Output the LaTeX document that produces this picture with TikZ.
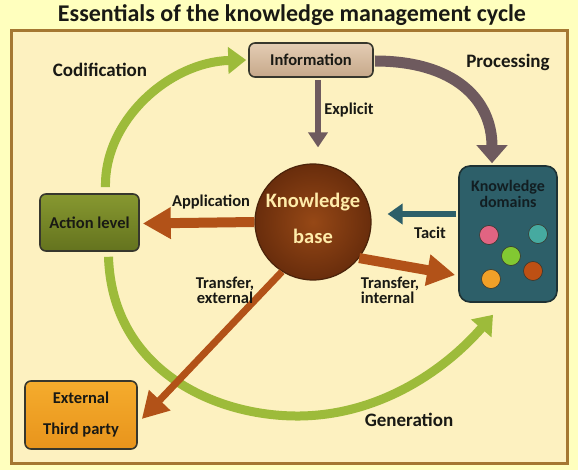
\documentclass[tikz,border=0pt]{standalone}
\usepackage{fontspec}
\setmainfont{Carlito}
\usetikzlibrary{arrows.meta,calc,shapes.geometric}
\definecolor{bgout}{RGB}{255,255,190}
\definecolor{panel}{RGB}{253,241,192}
\definecolor{frame}{RGB}{165,120,50}
\definecolor{txt}{RGB}{25,25,20}
\definecolor{mauve}{RGB}{110,90,94}
\definecolor{leaf}{RGB}{157,187,58}
\definecolor{rust}{RGB}{178,82,24}
\definecolor{teal}{RGB}{45,95,105}
\definecolor{edge}{RGB}{55,55,45}
\tikzset{
  lbl/.style={text=txt,font=\bfseries\fontsize{16.5}{15}\selectfont,inner sep=0pt},
  biglbl/.style={text=txt,font=\bfseries\fontsize{19}{20}\selectfont,inner sep=0pt},
  boxbase/.style={draw=edge,line width=1.6pt,rounded corners=6pt,text=txt,
    font=\bfseries\fontsize{16.5}{31}\selectfont,align=center,inner sep=0pt},
  dot/.style={circle,draw=edge,line width=0.6pt,minimum size=19pt,inner sep=0pt},
  greenarr/.style={draw=leaf,line width=9pt,-{Triangle[length=18pt,width=26pt]}},
  mauvearr/.style={draw=mauve,line width=11pt,-{Triangle[length=18pt,width=30pt]}},
  thinmauve/.style={draw=mauve,line width=6pt,-{Triangle[length=15pt,width=19pt]}},
  rustarr/.style={draw=rust,line width=10pt,-{Triangle[length=28pt,width=30pt]}},
  thinrust/.style={draw=rust,line width=7pt,-{Triangle[length=26pt,width=28pt]}},
  tealarr/.style={draw=teal,line width=6pt,-{Triangle[length=15pt,width=20pt]}}
}
\begin{document}
\begin{tikzpicture}[x=1pt,y=-1pt]
\fill[bgout] (0,0) rectangle (578,470);
\useasboundingbox (0,0) rectangle (578,470);
\fill[panel] (11,31) rectangle (567,463);
\draw[frame,line width=3pt] (11,31) rectangle (567,463);
\node[text=txt,font=\bfseries\fontsize{24}{26}\selectfont] (title) at (292,15) {Essentials of the knowledge management cycle};

% nodes
\node[boxbase,minimum width=124pt,minimum height=34pt,top color={rgb,255:red,228;green,205;blue,180},bottom color={rgb,255:red,198;green,168;blue,138}] (info) at (311,60) {Information};
\node[boxbase,minimum width=99pt,minimum height=57pt,top color={rgb,255:red,135;green,152;blue,48},bottom color={rgb,255:red,100;green,115;blue,30}] (act) at (89.5,222.5) {Action level};
\node[boxbase,minimum width=112pt,minimum height=68pt,top color={rgb,255:red,245;green,172;blue,45},bottom color={rgb,255:red,232;green,148;blue,28}] (ext) at (81,415) {External\\Third party};
\node[boxbase,rounded corners=11pt,minimum width=98pt,minimum height=136pt,fill=teal,draw={rgb,255:red,30;green,50;blue,52}] (kd) at (508,234) {};
\node[text={rgb,255:red,18;green,30;blue,34},font=\bfseries\fontsize{16}{16}\selectfont,align=center] (kdt) at (508,194) {Knowledge\\domains};
\node[circle,minimum size=116pt,draw={rgb,255:red,75;green,35;blue,10},line width=1.2pt,inner color={rgb,255:red,150;green,72;blue,22},outer color={rgb,255:red,105;green,45;blue,12}] (kb) at (313,222) {};
\node[text={rgb,255:red,255;green,236;blue,170},font=\bfseries\fontsize{20.5}{36}\selectfont,align=center] (kbt) at (313,218) {Knowledge\\base};

\node[dot,fill={rgb,255:red,225;green,100;blue,130}] (d1) at (489,235) {};
\node[dot,fill={rgb,255:red,70;green,170;blue,160}] (d2) at (538,234) {};
\node[dot,fill={rgb,255:red,130;green,200;blue,50}] (d3) at (511,256) {};
\node[dot,fill={rgb,255:red,240;green,160;blue,40}] (d4) at (491,279) {};
\node[dot,fill={rgb,255:red,190;green,80;blue,20}] (d5) at (533,271) {};

% green cycle arrows
\coordinate (codstart) at ($(act.north)+(16,-6)$);
\draw[greenarr] (codstart) .. controls (104,120) and (170,62) .. ($(info.west)+(-2,0)$);
\coordinate (genstart) at ($(act.south)+(19,5)$);
\coordinate (genmid) at (300,416);
\coordinate (genend) at ($(kd.south)+(-15,12)$);
\draw[draw=leaf,line width=9pt] (genstart) .. controls (112,370) and (215,417) .. (genmid);
\draw[greenarr] (genmid) .. controls (380,415) and (445,370) .. (genend);

% processing
\draw[mauvearr] ($(info.east)+(1,1)$) .. controls (455,61) and (492,100) .. ($(kd.north)+(-16,-2)$);
% explicit
\draw[thinmauve] ($(info.south)+(7,2)$) -- ($(kb.north)+(5,-16)$);
% tacit
\draw[tealarr] ($(kd.west)+(-2,-20)$) -- ($(kb.east)+(16,-8)$);
% application
\draw[rustarr] (kb.west) -- ($(act.east)+(3,1)$);
% transfer internal
\draw[rustarr] (kb.-38) -- ($(kd.west)+(-3,41)$);
% transfer external
\draw[thinrust] (kb.-122) -- ($(ext.east)+(4,4)$);

% labels
\node[biglbl] (lcod) at (100,70) {Codification};
\node[biglbl] (lproc) at (508,62) {Processing};
\node[lbl] (lexp) at (349,110) {Explicit};
\node[lbl] (lapp) at (211,202) {Application};
\node[lbl] (ltac) at (430,233) {Tacit};
\node[lbl,align=center] (ltext) at (225,290) {Transfer,\\external};
\node[lbl,align=left] (ltint) at (390,290) {Transfer,\\internal};
\node[biglbl] (lgen) at (409,420) {Generation};
\end{tikzpicture}
\end{document}
